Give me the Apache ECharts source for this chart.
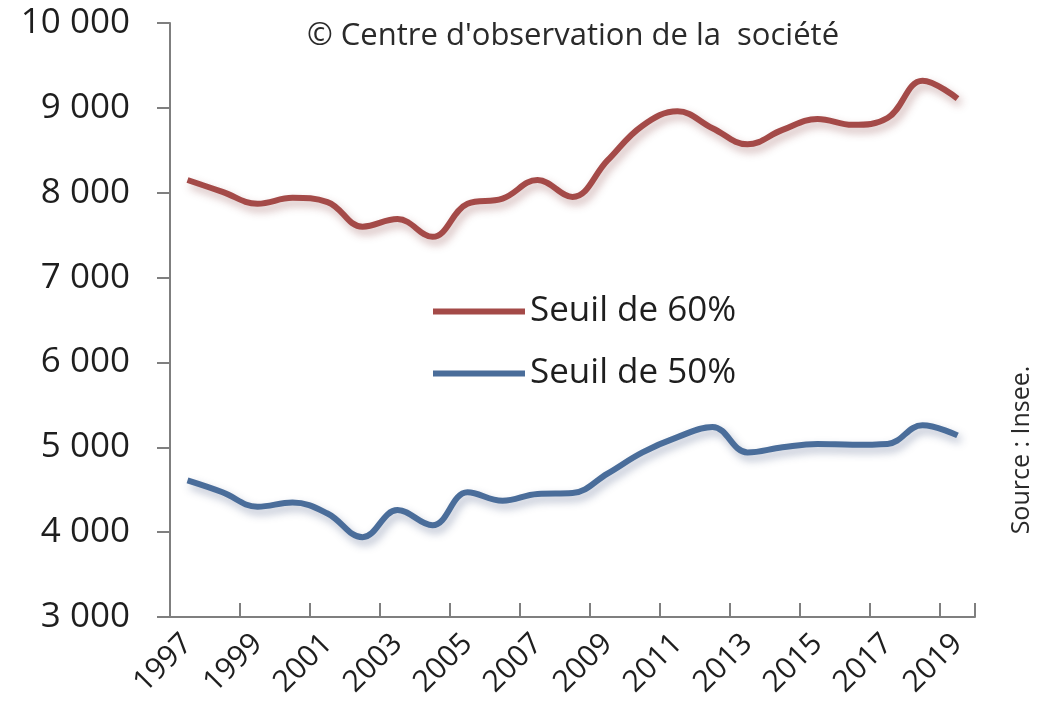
<!DOCTYPE html>
<html>
<head>
<meta charset="utf-8">
<script src="https://cdn.jsdelivr.net/npm/echarts@6/dist/echarts.min.js"></script>
<style>
html,body{margin:0;padding:0;background:#fff;}
#c{width:1053px;height:721px;}
</style>
</head>
<body>
<div id="c"></div>
<script>
const years = ['1997','1998','1999','2000','2001','2002','2003','2004','2005','2006','2007','2008','2009','2010','2011','2012','2013','2014','2015','2016','2017','2018','2019'];
const seuil60 = [8150,8010,7870,7940,7890,7600,7690,7480,7870,7930,8150,7950,8380,8790,8960,8760,8570,8740,8870,8800,8880,9320,9110];
const seuil50 = [4610,4470,4300,4350,4220,3940,4260,4080,4470,4370,4450,4460,4690,4940,5120,5240,4940,5000,5040,5030,5040,5260,5140];
const seriesNames = ['Seuil de 60%','Seuil de 50%'];
const titleText = "\u00a9 Centre d'observation de la  soci\u00e9t\u00e9";
const sourceText = 'Source : Insee.';

const FONT = "'Open Sans', sans-serif";
const chart = echarts.init(document.getElementById('c'));
const fmt = v => String(v).replace(/\B(?=(\d{3})+(?!\d))/g, ' ');

chart.setOption({
  animation: false,
  backgroundColor: '#ffffff',
  title: {
    text: titleText,
    left: 302, top: 16,
    textStyle: {fontFamily: FONT, fontSize: 31, fontWeight: 'normal', color: '#2a2a2a'}
  },
  legend: {
    data: seriesNames,
    orient: 'vertical',
    left: 428, top: 289,
    icon: 'rect',
    itemWidth: 92, itemHeight: 6,
    itemGap: 27,
    textStyle: {fontFamily: FONT, fontSize: 35, color: '#1e1e1e'}
  },
  graphic: [{
    type: 'text',
    x: 1022, y: 450,
    rotation: Math.PI / 2,
    style: {
      text: sourceText,
      fontFamily: FONT, fontSize: 25, fill: '#2a2a2a',
      textAlign: 'center', textVerticalAlign: 'middle'
    }
  }],
  grid: {left: 170, right: 78, top: 23, bottom: 104, containLabel: false},
  xAxis: {
    type: 'category',
    data: years,
    boundaryGap: true,
    axisLine: {lineStyle: {color: '#7f7f7f', width: 2}},
    axisTick: {show: true, inside: true, length: 14, interval: 1, lineStyle: {color: '#7f7f7f', width: 2}},
    axisLabel: {interval: 1, rotate: 45, margin: 22, fontFamily: FONT, fontSize: 30, color: '#1e1e1e'},
    splitLine: {show: false}
  },
  yAxis: {
    type: 'value',
    min: 3000, max: 10000, interval: 1000,
    axisLine: {show: true, lineStyle: {color: '#7f7f7f', width: 2}},
    axisTick: {show: true, length: 13, lineStyle: {color: '#7f7f7f', width: 2}},
    axisLabel: {margin: 40, formatter: fmt, fontFamily: FONT, fontSize: 35, color: '#1e1e1e'},
    splitLine: {show: false}
  },
  series: [{
    name: seriesNames[0],
    type: 'line',
    data: seuil60,
    smooth: 0.4,
    symbol: 'none',
    color: '#A44A48',
    lineStyle: {width: 6, color: '#A44A48', shadowColor: 'rgba(120,40,40,0.35)', shadowBlur: 8, shadowOffsetX: 3, shadowOffsetY: 5}
  }, {
    name: seriesNames[1],
    type: 'line',
    data: seuil50,
    smooth: 0.4,
    symbol: 'none',
    color: '#4A6D9A',
    lineStyle: {width: 6, color: '#4A6D9A', shadowColor: 'rgba(40,60,110,0.35)', shadowBlur: 8, shadowOffsetX: 3, shadowOffsetY: 5}
  }]
});
</script>
</body>
</html>
